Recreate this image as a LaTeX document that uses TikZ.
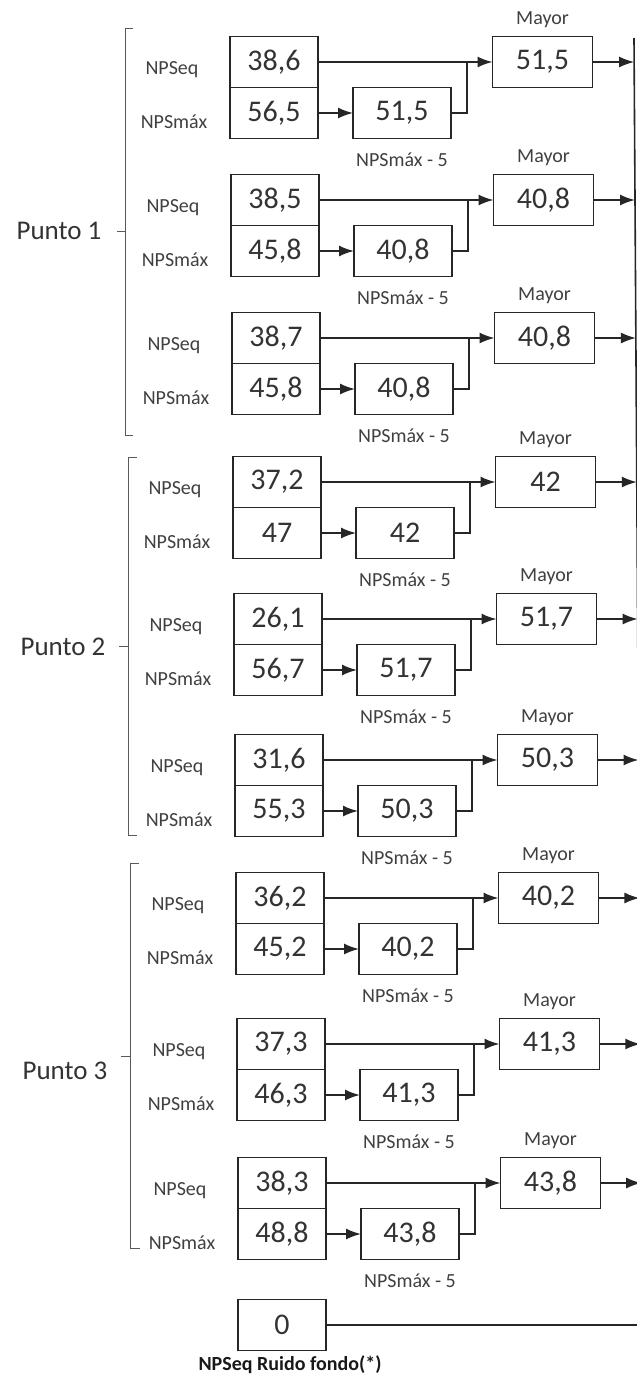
\documentclass[tikz,border=0pt]{standalone}
\usepackage{fontspec}
\setmainfont{Carlito}
\usepackage{tikz}
\usetikzlibrary{matrix,calc,arrows.meta}

\begin{document}
\begin{tikzpicture}[x=1pt,y=-1pt,>={Latex[length=15pt,width=11pt]},
  caja/.style={draw=black!85,line width=1.6pt,minimum width=88pt,minimum height=51pt,inner sep=0pt,outer sep=0pt,text=black!80,font=\fontsize{30}{31}\selectfont},
  ancha/.style={caja,minimum width=98pt},
  mayor/.style={caja,minimum width=100pt},
  etiq/.style={text=black!75,font=\fontsize{20}{22}\selectfont,inner sep=0pt},
  punto/.style={text=black!80,font=\fontsize{27}{28}\selectfont,inner sep=0pt},
  pila/.style={matrix of nodes,row sep=-1.6pt,nodes={caja},inner sep=0pt,outer sep=0pt},
  llave/.style={line width=0.9pt,black!65},
  linea/.style={line width=1.6pt,black!85}]
\useasboundingbox (0,0) rectangle (637,1376);

\node[punto] (p1) at (59,231) {Punto 1};
\node[punto] (p2) at (63,647) {Punto 2};
\node[punto] (p3) at (65,1071) {Punto 3};
\draw[llave] (133,28) -| (125,435) -- (133,435);
\draw[llave] (125,231) -- (117,231);
\draw[llave] (137,457) -| (128,835) -- (137,835);
\draw[llave] (128,646) -- (119,646);
\draw[llave] (139,863) -| (130,1248) -- (140,1248);
\draw[llave] (130,1056) -- (121,1056);

\matrix (g1) [pila] at (274,87.5)
{
    38,6 \\
    56,5 \\
};
\node[etiq] (e1) at ($(g1-1-1)+(-102,8)$) {NPSeq};
\node[etiq] (m1) at ($(g1-2-1)+(-100,9)$) {NPSmáx};
\node[ancha] (r1) at ($(g1-2-1)+(128,0)$) {51,5};
\node[mayor] (y1) at ($(g1-1-1)+(268.5,0)$) {51,5};
\node[etiq] (ty1) at ($(y1)+(0,-42)$) {Mayor};
\node[etiq] (tr1) at ($(r1)+(0,47)$) {NPSmáx - 5};

\matrix (g2) [pila] at (275,225.5)
{
    38,5 \\
    45,8 \\
};
\node[etiq] (e2) at ($(g2-1-1)+(-102,8)$) {NPSeq};
\node[etiq] (m2) at ($(g2-2-1)+(-100,9)$) {NPSmáx};
\node[ancha] (r2) at ($(g2-2-1)+(128,0)$) {40,8};
\node[mayor] (y2) at ($(g2-1-1)+(268.5,0)$) {40,8};
\node[etiq] (ty2) at ($(y2)+(0,-42)$) {Mayor};
\node[etiq] (tr2) at ($(r2)+(0,47)$) {NPSmáx - 5};

\matrix (g3) [pila] at (276,363.5)
{
    38,7 \\
    45,8 \\
};
\node[etiq] (e3) at ($(g3-1-1)+(-102,8)$) {NPSeq};
\node[etiq] (m3) at ($(g3-2-1)+(-100,9)$) {NPSmáx};
\node[ancha] (r3) at ($(g3-2-1)+(128,0)$) {40,8};
\node[mayor] (y3) at ($(g3-1-1)+(268.5,0)$) {40,8};
\node[etiq] (ty3) at ($(y3)+(0,-42)$) {Mayor};
\node[etiq] (tr3) at ($(r3)+(0,47)$) {NPSmáx - 5};

\matrix (g4) [pila] at (277,507.5)
{
    37,2 \\
    47 \\
};
\node[etiq] (e4) at ($(g4-1-1)+(-102,8)$) {NPSeq};
\node[etiq] (m4) at ($(g4-2-1)+(-100,9)$) {NPSmáx};
\node[ancha] (r4) at ($(g4-2-1)+(128,0)$) {42};
\node[mayor] (y4) at ($(g4-1-1)+(268.5,0)$) {42};
\node[etiq] (ty4) at ($(y4)+(0,-42)$) {Mayor};
\node[etiq] (tr4) at ($(r4)+(0,47)$) {NPSmáx - 5};

\matrix (g5) [pila] at (278,644.5)
{
    26,1 \\
    56,7 \\
};
\node[etiq] (e5) at ($(g5-1-1)+(-102,8)$) {NPSeq};
\node[etiq] (m5) at ($(g5-2-1)+(-100,9)$) {NPSmáx};
\node[ancha] (r5) at ($(g5-2-1)+(128,0)$) {51,7};
\node[mayor] (y5) at ($(g5-1-1)+(268.5,0)$) {51,7};
\node[etiq] (ty5) at ($(y5)+(0,-42)$) {Mayor};
\node[etiq] (tr5) at ($(r5)+(0,47)$) {NPSmáx - 5};

\matrix (g6) [pila] at (279,785.5)
{
    31,6 \\
    55,3 \\
};
\node[etiq] (e6) at ($(g6-1-1)+(-102,8)$) {NPSeq};
\node[etiq] (m6) at ($(g6-2-1)+(-100,9)$) {NPSmáx};
\node[ancha] (r6) at ($(g6-2-1)+(128,0)$) {50,3};
\node[mayor] (y6) at ($(g6-1-1)+(268.5,0)$) {50,3};
\node[etiq] (ty6) at ($(y6)+(0,-42)$) {Mayor};
\node[etiq] (tr6) at ($(r6)+(0,47)$) {NPSmáx - 5};

\matrix (g7) [pila] at (280,923.5)
{
    36,2 \\
    45,2 \\
};
\node[etiq] (e7) at ($(g7-1-1)+(-102,8)$) {NPSeq};
\node[etiq] (m7) at ($(g7-2-1)+(-100,9)$) {NPSmáx};
\node[ancha] (r7) at ($(g7-2-1)+(128,0)$) {40,2};
\node[mayor] (y7) at ($(g7-1-1)+(268.5,0)$) {40,2};
\node[etiq] (ty7) at ($(y7)+(0,-42)$) {Mayor};
\node[etiq] (tr7) at ($(r7)+(0,47)$) {NPSmáx - 5};

\matrix (g8) [pila] at (281,1069.5)
{
    37,3 \\
    46,3 \\
};
\node[etiq] (e8) at ($(g8-1-1)+(-102,8)$) {NPSeq};
\node[etiq] (m8) at ($(g8-2-1)+(-100,9)$) {NPSmáx};
\node[ancha] (r8) at ($(g8-2-1)+(128,0)$) {41,3};
\node[mayor] (y8) at ($(g8-1-1)+(268.5,0)$) {41,3};
\node[etiq] (ty8) at ($(y8)+(0,-42)$) {Mayor};
\node[etiq] (tr8) at ($(r8)+(0,47)$) {NPSmáx - 5};

\matrix (g9) [pila] at (282,1208.5)
{
    38,3 \\
    48,8 \\
};
\node[etiq] (e9) at ($(g9-1-1)+(-102,8)$) {NPSeq};
\node[etiq] (m9) at ($(g9-2-1)+(-100,9)$) {NPSmáx};
\node[ancha] (r9) at ($(g9-2-1)+(128,0)$) {43,8};
\node[mayor] (y9) at ($(g9-1-1)+(268.5,0)$) {43,8};
\node[etiq] (ty9) at ($(y9)+(0,-42)$) {Mayor};
\node[etiq] (tr9) at ($(r9)+(0,47)$) {NPSmáx - 5};

\node[caja] (z) at (282,1325) {0};
\node[etiq,text=black!90,font=\fontsize{20}{22}\selectfont\bfseries] (zl) at (290,1365) {NPSeq Ruido fondo(*)};

\coordinate (rtop) at (634,38);
\coordinate (rbot) at (642,1325);
\coordinate (d1) at (634.1,62);
\coordinate (d2) at (635.0,200);
\coordinate (d3) at (635.9,338);
\coordinate (d4) at (636.8,482);
\coordinate (d5) at (637.6,619);
\coordinate (d6) at (638.5,760);
\coordinate (d7) at (639.4,898);
\coordinate (d8) at (640.3,1044);
\coordinate (d9) at (641.2,1183);

\draw[linea] (rtop) -- (rbot);
\draw[linea] (z) -- (rbot);

\draw[linea,->] (g1-1-1) -- (y1);
\draw[linea,->] (g1-2-1) -- (r1);
\draw[linea] (r1.east) -- ++(16,0) coordinate (j1) -- (j1 |- y1.west);
\draw[linea,->] (y1) -- (d1);

\draw[linea,->] (g2-1-1) -- (y2);
\draw[linea,->] (g2-2-1) -- (r2);
\draw[linea] (r2.east) -- ++(16,0) coordinate (j2) -- (j2 |- y2.west);
\draw[linea,->] (y2) -- (d2);

\draw[linea,->] (g3-1-1) -- (y3);
\draw[linea,->] (g3-2-1) -- (r3);
\draw[linea] (r3.east) -- ++(16,0) coordinate (j3) -- (j3 |- y3.west);
\draw[linea,->] (y3) -- (d3);

\draw[linea,->] (g4-1-1) -- (y4);
\draw[linea,->] (g4-2-1) -- (r4);
\draw[linea] (r4.east) -- ++(16,0) coordinate (j4) -- (j4 |- y4.west);
\draw[linea,->] (y4) -- (d4);

\draw[linea,->] (g5-1-1) -- (y5);
\draw[linea,->] (g5-2-1) -- (r5);
\draw[linea] (r5.east) -- ++(16,0) coordinate (j5) -- (j5 |- y5.west);
\draw[linea,->] (y5) -- (d5);

\draw[linea,->] (g6-1-1) -- (y6);
\draw[linea,->] (g6-2-1) -- (r6);
\draw[linea] (r6.east) -- ++(16,0) coordinate (j6) -- (j6 |- y6.west);
\draw[linea,->] (y6) -- (d6);

\draw[linea,->] (g7-1-1) -- (y7);
\draw[linea,->] (g7-2-1) -- (r7);
\draw[linea] (r7.east) -- ++(16,0) coordinate (j7) -- (j7 |- y7.west);
\draw[linea,->] (y7) -- (d7);

\draw[linea,->] (g8-1-1) -- (y8);
\draw[linea,->] (g8-2-1) -- (r8);
\draw[linea] (r8.east) -- ++(16,0) coordinate (j8) -- (j8 |- y8.west);
\draw[linea,->] (y8) -- (d8);

\draw[linea,->] (g9-1-1) -- (y9);
\draw[linea,->] (g9-2-1) -- (r9);
\draw[linea] (r9.east) -- ++(16,0) coordinate (j9) -- (j9 |- y9.west);
\draw[linea,->] (y9) -- (d9);
\end{tikzpicture}
\end{document}
